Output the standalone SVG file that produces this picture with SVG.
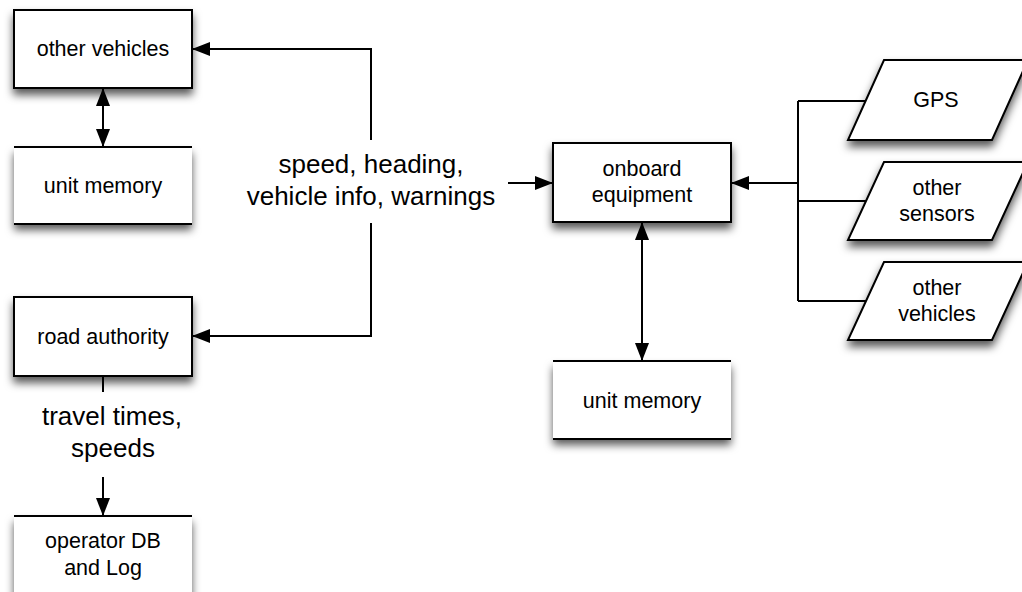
<svg xmlns="http://www.w3.org/2000/svg" width="1022" height="592" viewBox="0 0 1022 592">
<defs>
<filter id="sh" x="-20%" y="-20%" width="140%" height="170%">
<feDropShadow dx="0" dy="6" stdDeviation="4.5" flood-color="#000" flood-opacity="0.65"/>
</filter>
<marker id="ah" viewBox="0 0 18 14" refX="18" refY="7" markerWidth="18" markerHeight="14" markerUnits="userSpaceOnUse" orient="auto-start-reverse">
<path d="M0,0 L18,7 L0,14 Z" fill="#000"/>
</marker>
</defs>
<style>
.box{fill:#fff;stroke:#000;stroke-width:2;filter:url(#sh)}
.fill{fill:#fff;stroke:none;filter:url(#sh)}
.ln{stroke:#000;stroke-width:2;fill:none}
.t{font-family:"Liberation Sans",Arial,sans-serif;font-size:21.5px;fill:#000;text-anchor:middle}
.lb{font-family:"Liberation Sans",Arial,sans-serif;font-size:26px;fill:#000;text-anchor:middle}
</style>
<rect width="1022" height="592" fill="#fff"/>

<g id="other-vehicles-left">
<rect class="box" x="14" y="10" width="178" height="78"/>
<text class="t" x="103" y="56">other vehicles</text>
</g>
<g id="unit-memory-left">
<rect class="fill" x="14" y="147" width="178" height="77"/>
<line class="ln" x1="14" y1="147" x2="192" y2="147"/>
<line class="ln" x1="14" y1="224" x2="192" y2="224"/>
<text class="t" x="103" y="193">unit memory</text>
</g>
<g id="road-authority">
<rect class="box" x="14" y="297" width="178" height="79"/>
<text class="t" x="103" y="344">road authority</text>
</g>
<g id="operator-db">
<rect class="fill" x="14" y="516" width="178" height="80"/>
<line class="ln" x1="14" y1="516" x2="192" y2="516"/>
<text class="t" x="103" y="548">operator DB</text>
<text class="t" x="103" y="575">and Log</text>
</g>
<g id="onboard-equipment">
<rect class="box" x="553" y="143" width="178" height="79"/>
<text class="t" x="642" y="176">onboard</text>
<text class="t" x="642" y="202">equipment</text>
</g>
<g id="unit-memory-right">
<rect class="fill" x="553" y="361" width="178" height="78"/>
<line class="ln" x1="553" y1="361" x2="731" y2="361"/>
<line class="ln" x1="553" y1="439" x2="731" y2="439"/>
<text class="t" x="642" y="408">unit memory</text>
</g>
<g id="gps">
<polygon class="box" points="884,60 1028,60 992,140 848,140"/>
<text class="t" x="936" y="107">GPS</text>
</g>
<g id="other-sensors">
<polygon class="box" points="884,162 1028,162 992,240 848,240"/>
<text class="t" x="937" y="195">other</text>
<text class="t" x="937" y="221">sensors</text>
</g>
<g id="other-vehicles-right">
<polygon class="box" points="884,262 1028,262 992,340 848,340"/>
<text class="t" x="937" y="295">other</text>
<text class="t" x="937" y="321">vehicles</text>
</g>

<g id="connectors">
<line class="ln" x1="103" y1="88" x2="103" y2="147" marker-start="url(#ah)" marker-end="url(#ah)"/>
<polyline class="ln" points="371,140 371,49 192,49" marker-end="url(#ah)"/>
<polyline class="ln" points="371,223 371,336 192,336" marker-end="url(#ah)"/>
<line class="ln" x1="508" y1="183" x2="553" y2="183" marker-end="url(#ah)"/>
<line class="ln" x1="103" y1="376" x2="103" y2="392"/>
<line class="ln" x1="103" y1="477" x2="103" y2="516" marker-end="url(#ah)"/>
<line class="ln" x1="642" y1="222" x2="642" y2="361" marker-start="url(#ah)" marker-end="url(#ah)"/>
<line class="ln" x1="798" y1="101" x2="798" y2="301"/>
<line class="ln" x1="798" y1="101" x2="866" y2="101"/>
<line class="ln" x1="798" y1="201" x2="866" y2="201"/>
<line class="ln" x1="798" y1="301" x2="866" y2="301"/>
<line class="ln" x1="798" y1="183" x2="731" y2="183" marker-end="url(#ah)"/>
</g>

<g id="labels">
<text class="lb" x="371" y="173">speed, heading,</text>
<text class="lb" x="371" y="205">vehicle info, warnings</text>
<text class="lb" x="112" y="425">travel times,</text>
<text class="lb" x="113" y="457">speeds</text>
</g>
</svg>
